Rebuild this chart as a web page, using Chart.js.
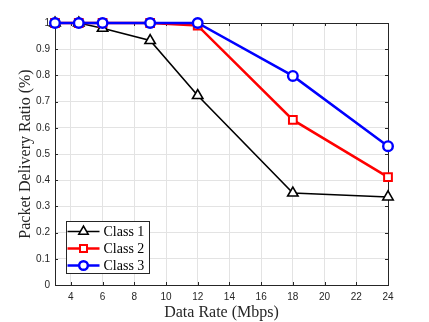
<!DOCTYPE html>
<html>
<head>
<meta charset="utf-8">
<script src="https://cdn.jsdelivr.net/npm/chart.js@4/dist/chart.umd.min.js"></script>
<style>
  html, body { margin: 0; padding: 0; background: #fff; }
  #wrap { width: 429px; height: 322px; }
</style>
</head>
<body>
<div id="wrap"><canvas id="c" width="429" height="322"></canvas></div>
<script>
// data
const dataRates = [3, 4.5, 6, 9, 12, 18, 24];
const class1 = [1, 1, 0.98, 0.933, 0.723, 0.351, 0.336];
const class2 = [1, 1, 1, 1, 0.99, 0.63, 0.412];
const class3 = [1, 1, 1, 1, 1, 0.798, 0.53];
const xTicks = [4, 6, 8, 10, 12, 14, 16, 18, 20, 22, 24];
const yTicks = [0, 0.1, 0.2, 0.3, 0.4, 0.5, 0.6, 0.7, 0.8, 0.9, 1];
const seriesNames = ['Class 1', 'Class 2', 'Class 3'];

const axisColor = '#262626';
const gridColor = '#e3e3e3';

function pts(ys) { return dataRates.map((x, i) => ({ x: x, y: ys[i] })); }

// box + inward ticks (matlab style), drawn under the lines
const boxPlugin = {
  id: 'boxPlugin',
  beforeDatasetsDraw(chart) {
    const { ctx, chartArea: a, scales: { x, y } } = chart;
    ctx.save();
    ctx.strokeStyle = axisColor;
    ctx.lineWidth = 1;
    ctx.beginPath();
    xTicks.forEach(v => {
      const px = Math.round(x.getPixelForValue(v)) + 0.5;
      ctx.moveTo(px, a.bottom); ctx.lineTo(px, a.bottom - 3);
      ctx.moveTo(px, a.top); ctx.lineTo(px, a.top + 3);
    });
    yTicks.forEach(v => {
      const py = Math.round(y.getPixelForValue(v)) + 0.5;
      ctx.moveTo(a.left, py); ctx.lineTo(a.left + 3, py);
      ctx.moveTo(a.right, py); ctx.lineTo(a.right - 3, py);
    });
    ctx.stroke();
    ctx.strokeRect(Math.round(a.left) + 0.5, Math.round(a.top) + 0.5,
      Math.round(a.right - a.left), Math.round(a.bottom - a.top));
    ctx.restore();
  },
  // legend box on top
  afterDatasetsDraw(chart) {
    const ctx = chart.ctx;
    ctx.save();
    const lx = 66.5, ly = 221.5, lw = 83, lh = 52;
    ctx.fillStyle = '#fff';
    ctx.fillRect(lx, ly, lw, lh);
    ctx.strokeStyle = axisColor;
    ctx.lineWidth = 1;
    ctx.strokeRect(lx, ly, lw, lh);
    ctx.font = '14px "Liberation Serif", "Times New Roman", serif';
    ctx.textBaseline = 'middle';
    chart.data.datasets.forEach((ds, i) => {
      const cy = ly + 10 + i * 17;
      ctx.strokeStyle = ds.borderColor;
      ctx.lineWidth = ds.borderWidth;
      ctx.beginPath();
      ctx.moveTo(lx + 1, cy); ctx.lineTo(lx + 33, cy);
      ctx.stroke();
      ctx.fillStyle = '#fff';
      ctx.lineWidth = ds.pointBorderWidth;
      Chart.helpers.drawPoint(ctx, {
        pointStyle: ds.pointStyle, radius: ds.pointRadius * 0.9, borderWidth: ds.pointBorderWidth, rotation: 0
      }, lx + 17, cy);
      ctx.fillStyle = '#000';
      ctx.fillText(seriesNames[i], lx + 37, cy + 1);
    });
    ctx.restore();
  }
};

new Chart(document.getElementById('c'), {
  type: 'line',
  data: {
    datasets: [
      { label: seriesNames[0], data: pts(class1), order: 3, borderColor: '#000', borderWidth: 1.6, clip: false,
        pointStyle: 'triangle', pointRadius: 6, pointBorderWidth: 1.6, pointBackgroundColor: '#fff', pointBorderColor: '#000' },
      { label: seriesNames[1], data: pts(class2), order: 2, borderColor: '#ff0000', borderWidth: 2.5, clip: false,
        pointStyle: 'rect', pointRadius: 5.5, pointBorderWidth: 2, pointBackgroundColor: '#fff', pointBorderColor: '#ff0000' },
      { label: seriesNames[2], data: pts(class3), order: 1, borderColor: '#0000ff', borderWidth: 2.5, clip: false,
        pointStyle: 'circle', pointRadius: 4.8, pointBorderWidth: 2.4, pointBackgroundColor: '#fff', pointBorderColor: '#0000ff' }
    ]
  },
  options: {
    responsive: false,
    animation: false,
    layout: { padding: { top: 23, right: 41, left: 0, bottom: 0 } },
    plugins: { legend: { display: false }, tooltip: { enabled: false } },
    scales: {
      x: {
        type: 'linear', min: 3, max: 24,
        afterBuildTicks: s => { s.ticks = xTicks.map(v => ({ value: v })); },
        afterFit: s => { s.height = 37; },
        grid: { color: gridColor, drawTicks: false },
        border: { display: false },
        ticks: { color: axisColor, padding: 6, maxRotation: 0,
          font: { family: '"Liberation Sans", Arial, sans-serif', size: 10 } },
        title: { display: true, text: 'Data Rate (Mbps)', color: axisColor, padding: { top: 2, bottom: 0 },
          font: { family: '"Liberation Serif", "Times New Roman", serif', size: 16 } }
      },
      y: {
        min: 0, max: 1,
        afterBuildTicks: s => { s.ticks = yTicks.map(v => ({ value: v })); },
        afterFit: s => { s.width = 55; },
        grid: { color: gridColor, drawTicks: false },
        border: { display: false },
        ticks: { color: axisColor, padding: 5, callback: v => String(Math.round(v * 10) / 10),
          font: { family: '"Liberation Sans", Arial, sans-serif', size: 10 } },
        title: { display: true, text: 'Packet Delivery Ratio (%)', color: axisColor, padding: { top: 16, bottom: 0 },
          font: { family: '"Liberation Serif", "Times New Roman", serif', size: 16 } }
      }
    }
  },
  plugins: [boxPlugin]
});
</script>
</body>
</html>
